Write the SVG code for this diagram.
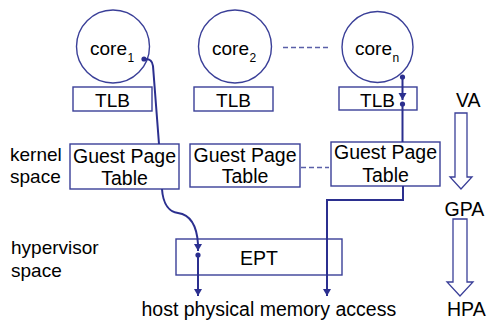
<svg xmlns="http://www.w3.org/2000/svg" width="487" height="320" viewBox="0 0 487 320">
<style>
  .box{fill:#fff;stroke:#3a3f98;stroke-width:1.4}
  .circ{fill:none;stroke:#3a3f98;stroke-width:1.4}
  .t{font-family:"Liberation Sans",Arial,sans-serif;font-size:19px;fill:#000}
  .big{font-size:19.5px}
  .sub{font-family:"Liberation Sans",Arial,sans-serif;font-size:12px;fill:#000}
  .mid{text-anchor:middle}
  .con{fill:none;stroke:#2b2f8f;stroke-width:2}
  .dash{fill:none;stroke:#5a5fa8;stroke-width:1.4;stroke-dasharray:5,3}
  .blk{fill:#fff;stroke:#3a3f98;stroke-width:1.3}
</style>
<defs>
  <marker id="arr" markerUnits="userSpaceOnUse" markerWidth="9" markerHeight="9" refX="7" refY="4" orient="auto">
    <path d="M0,0 L7,4 L0,8 z" fill="#2b2f8f"/>
  </marker>
  <marker id="dot" markerUnits="userSpaceOnUse" markerWidth="7" markerHeight="7" refX="3.5" refY="3.5">
    <circle cx="3.5" cy="3.5" r="2.6" fill="#2b2f8f"/>
  </marker>
</defs>

<g id="core1">
  <circle class="circ" cx="113" cy="46.5" r="36.5"/>
  <text class="t" x="90" y="55">core</text><text class="sub" x="127.5" y="61.5">1</text>
</g>
<g id="core2">
  <circle class="circ" cx="235" cy="46.5" r="36.5"/>
  <text class="t" x="212" y="55">core</text><text class="sub" x="249.5" y="61.5">2</text>
</g>
<g id="coren">
  <circle class="circ" cx="377.5" cy="47" r="35.5"/>
  <text class="t" x="355" y="55">core</text><text class="sub" x="392.5" y="61.5">n</text>
</g>

<g id="tlb1">
  <rect class="box" x="73" y="87" width="79" height="24"/>
  <text class="t mid" x="112.5" y="106.5">TLB</text>
</g>
<g id="tlb2">
  <rect class="box" x="194" y="87" width="79" height="24"/>
  <text class="t mid" x="233.5" y="106.5">TLB</text>
</g>
<g id="tlbn">
  <rect class="box" x="339" y="87" width="78" height="23"/>
  <text class="t mid" x="377.5" y="106.5">TLB</text>
</g>

<g id="gpt1">
  <rect class="box" x="70" y="144" width="109" height="45"/>
  <text class="t big mid" x="124.5" y="162.5">Guest Page</text>
  <text class="t big mid" x="124.5" y="185">Table</text>
</g>
<g id="gpt2">
  <rect class="box" x="190" y="144" width="110" height="43"/>
  <text class="t big mid" x="245" y="161.5">Guest Page</text>
  <text class="t big mid" x="245" y="182.5">Table</text>
</g>
<g id="gpt3">
  <rect class="box" x="331" y="142" width="109" height="44"/>
  <text class="t big mid" x="385.5" y="158.5">Guest Page</text>
  <text class="t big mid" x="385.5" y="181.5">Table</text>
</g>

<g id="ept">
  <rect class="box" x="176" y="239" width="166" height="36"/>
  <text class="t big mid" x="259" y="265">EPT</text>
</g>

<g id="labels">
  <text class="t" x="10" y="160.5">kernel</text>
  <text class="t" x="10" y="183">space</text>
  <text class="t" x="11" y="254">hypervisor</text>
  <text class="t" x="11" y="277">space</text>
  <text class="t big" x="141.5" y="315.5">host physical memory access</text>
  <text class="t big" x="456" y="107">VA</text>
  <text class="t big" x="444.5" y="216">GPA</text>
  <text class="t big" x="447" y="315.5">HPA</text>
</g>

<g id="va-arrows">
  <path class="blk" d="M455,113 L467,113 L467,177 L472,177 L461,189 L450,177 L455,177 z"/>
  <path class="blk" d="M453,219 L467,219 L467,282 L473,282 L460,296 L447,282 L453,282 z"/>
</g>

<g id="connectors">
  <line class="dash" x1="283" y1="47.5" x2="331" y2="47.5"/>
  <line class="dash" x1="301" y1="167.5" x2="329" y2="167.5"/>
  <path class="con" d="M144,59 Q152,58 153,66 L159,144" marker-start="url(#dot)"/>
  <path class="con" d="M162,189 C163,205 170,212 178,213 C192,215 197,228 198,244 L198,251" marker-end="url(#arr)"/>
  <path class="con" d="M198,255 L198,296" marker-start="url(#dot)" marker-end="url(#arr)"/>
  <path class="con" d="M402.5,77 L402.5,100" marker-start="url(#dot)" marker-end="url(#arr)"/>
  <path class="con" d="M402.5,104 L402.5,142" marker-start="url(#dot)"/>
  <path class="con" d="M403,186 L403,200 L327,200 L327,296" marker-end="url(#arr)"/>
</g>
</svg>
